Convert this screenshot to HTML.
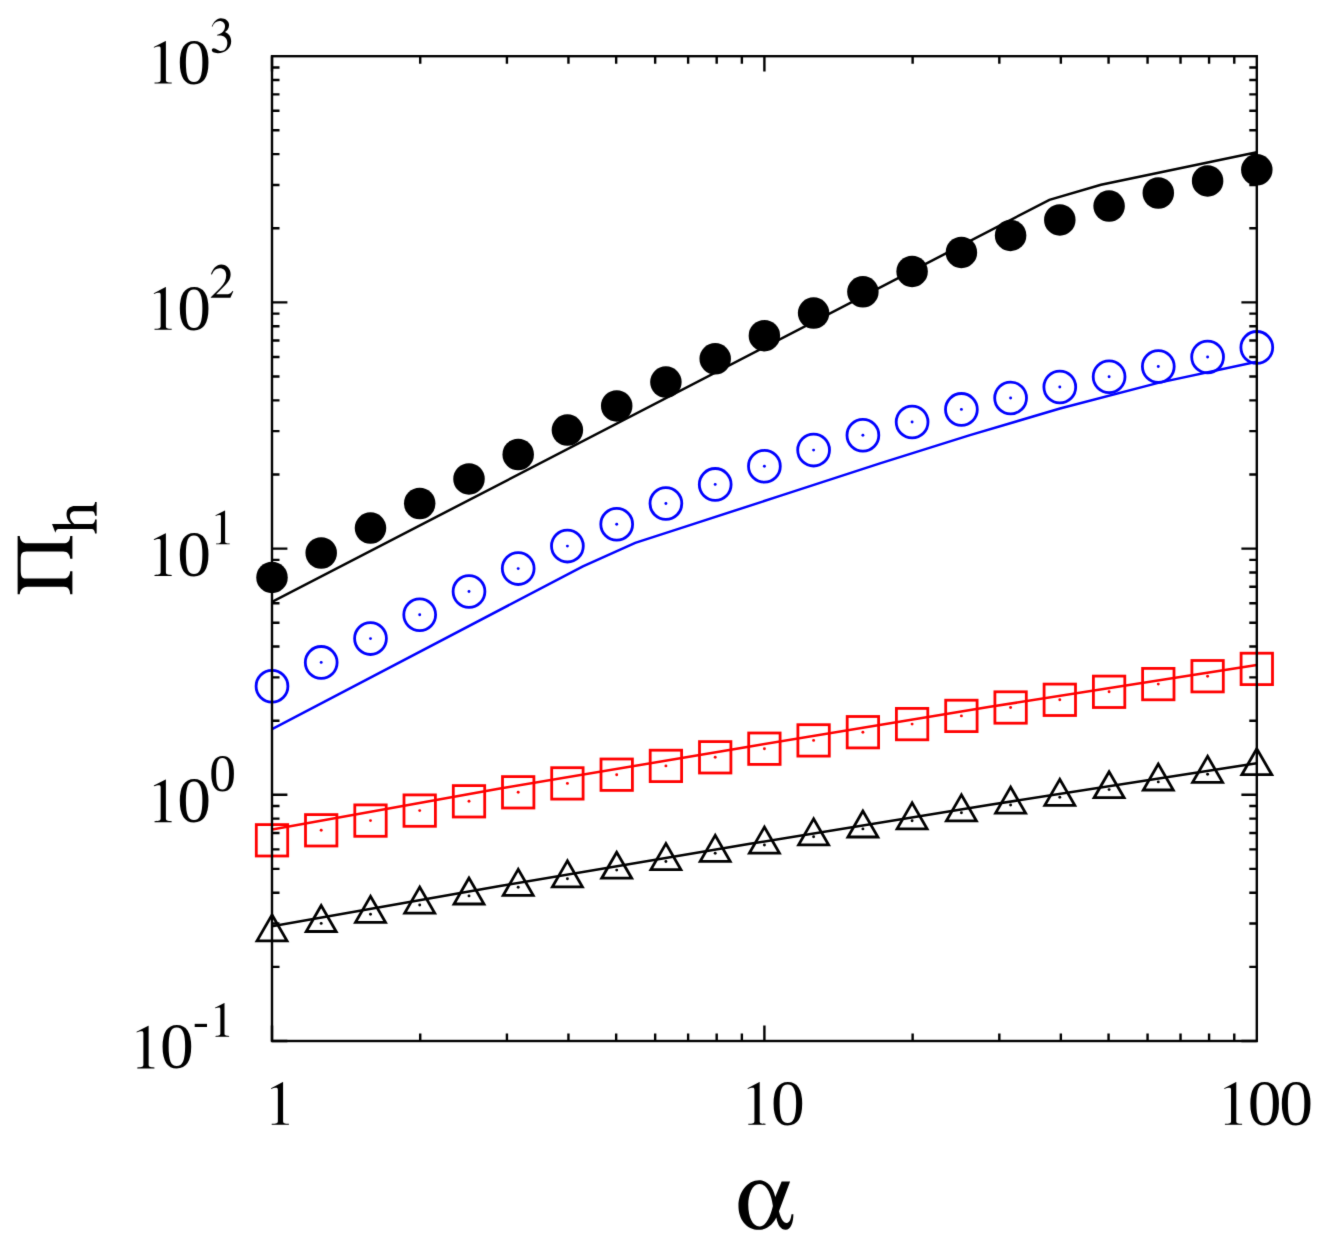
<!DOCTYPE html><html><head><meta charset="utf-8"><style>html,body{margin:0;padding:0;background:#fff;}svg{display:block;}</style></head><body>
<div id="w"><svg width="1324" height="1246" viewBox="0 0 1324 1246">
<rect width="1324" height="1246" fill="#fff"/>
<defs><filter id="bl" color-interpolation-filters="sRGB" x="0" y="0" width="1324" height="1246" filterUnits="userSpaceOnUse"><feConvolveMatrix order="5" kernelMatrix="0.00000 0.00003 0.00021 0.00003 0.00000 0.00003 0.01133 0.08373 0.01133 0.00003 0.00021 0.08373 0.61869 0.08373 0.00021 0.00003 0.01133 0.08373 0.01133 0.00003 0.00000 0.00003 0.00021 0.00003 0.00000" edgeMode="duplicate"/></filter><clipPath id="c"><rect x="272.0" y="56.2" width="984.8" height="984.8"/></clipPath></defs>
<g filter="url(#bl)"><rect width="1324" height="1246" fill="#fff"/>
<g fill="none" stroke-width="2.5" stroke-linejoin="miter" clip-path="url(#c)">
<polyline points="272.0,601.9 1049.4,199.9 1101.0,184.8 1256.8,152.2" stroke="#000"/>
<polyline points="272.0,729.2 582.9,566.4 635.2,542.9 680.0,528.4 780.0,495.9 880.0,463.4 970.0,435.1 1060.0,408.5 1158.2,382.9 1256.8,361.8" stroke="#00f"/>
<polyline points="272.0,829.6 500.0,788.6 750.0,746.5 990.0,706.8 1256.8,665.1" stroke="#f00"/>
<polyline points="272.0,926.3 500.0,886.0 750.0,843.8 990.0,804.8 1256.8,763.2" stroke="#000"/>
</g>
<g>
<circle cx="272.0" cy="577.4" r="15.75" fill="#000"/>
<circle cx="321.2" cy="553.0" r="15.75" fill="#000"/>
<circle cx="370.5" cy="528.1" r="15.75" fill="#000"/>
<circle cx="419.7" cy="503.5" r="15.75" fill="#000"/>
<circle cx="469.0" cy="478.9" r="15.75" fill="#000"/>
<circle cx="518.2" cy="454.5" r="15.75" fill="#000"/>
<circle cx="567.4" cy="430.1" r="15.75" fill="#000"/>
<circle cx="616.7" cy="405.9" r="15.75" fill="#000"/>
<circle cx="665.9" cy="382.1" r="15.75" fill="#000"/>
<circle cx="715.2" cy="358.8" r="15.75" fill="#000"/>
<circle cx="764.4" cy="335.7" r="15.75" fill="#000"/>
<circle cx="813.6" cy="313.1" r="15.75" fill="#000"/>
<circle cx="862.9" cy="291.8" r="15.75" fill="#000"/>
<circle cx="912.1" cy="271.4" r="15.75" fill="#000"/>
<circle cx="961.4" cy="252.4" r="15.75" fill="#000"/>
<circle cx="1010.6" cy="235.4" r="15.75" fill="#000"/>
<circle cx="1059.8" cy="219.9" r="15.75" fill="#000"/>
<circle cx="1109.1" cy="206.1" r="15.75" fill="#000"/>
<circle cx="1158.3" cy="193.0" r="15.75" fill="#000"/>
<circle cx="1207.6" cy="180.9" r="15.75" fill="#000"/>
<circle cx="1256.8" cy="169.8" r="15.75" fill="#000"/>
<circle cx="272.0" cy="686.2" r="15.9" fill="none" stroke="#00f" stroke-width="2.8"/>
<circle cx="321.2" cy="662.4" r="15.9" fill="none" stroke="#00f" stroke-width="2.8"/>
<circle cx="321.2" cy="662.4" r="1.45" fill="#00f"/>
<circle cx="370.5" cy="638.6" r="15.9" fill="none" stroke="#00f" stroke-width="2.8"/>
<circle cx="370.5" cy="638.6" r="1.45" fill="#00f"/>
<circle cx="419.7" cy="614.8" r="15.9" fill="none" stroke="#00f" stroke-width="2.8"/>
<circle cx="419.7" cy="614.8" r="1.45" fill="#00f"/>
<circle cx="469.0" cy="591.5" r="15.9" fill="none" stroke="#00f" stroke-width="2.8"/>
<circle cx="469.0" cy="591.5" r="1.45" fill="#00f"/>
<circle cx="518.2" cy="568.6" r="15.9" fill="none" stroke="#00f" stroke-width="2.8"/>
<circle cx="518.2" cy="568.6" r="1.45" fill="#00f"/>
<circle cx="567.4" cy="546.1" r="15.9" fill="none" stroke="#00f" stroke-width="2.8"/>
<circle cx="567.4" cy="546.1" r="1.45" fill="#00f"/>
<circle cx="616.7" cy="524.3" r="15.9" fill="none" stroke="#00f" stroke-width="2.8"/>
<circle cx="616.7" cy="524.3" r="1.45" fill="#00f"/>
<circle cx="665.9" cy="503.5" r="15.9" fill="none" stroke="#00f" stroke-width="2.8"/>
<circle cx="665.9" cy="503.5" r="1.45" fill="#00f"/>
<circle cx="715.2" cy="484.4" r="15.9" fill="none" stroke="#00f" stroke-width="2.8"/>
<circle cx="715.2" cy="484.4" r="1.45" fill="#00f"/>
<circle cx="764.4" cy="466.3" r="15.9" fill="none" stroke="#00f" stroke-width="2.8"/>
<circle cx="764.4" cy="466.3" r="1.45" fill="#00f"/>
<circle cx="813.6" cy="450.1" r="15.9" fill="none" stroke="#00f" stroke-width="2.8"/>
<circle cx="813.6" cy="450.1" r="1.45" fill="#00f"/>
<circle cx="862.9" cy="435.2" r="15.9" fill="none" stroke="#00f" stroke-width="2.8"/>
<circle cx="862.9" cy="435.2" r="1.45" fill="#00f"/>
<circle cx="912.1" cy="422.0" r="15.9" fill="none" stroke="#00f" stroke-width="2.8"/>
<circle cx="912.1" cy="422.0" r="1.45" fill="#00f"/>
<circle cx="961.4" cy="409.4" r="15.9" fill="none" stroke="#00f" stroke-width="2.8"/>
<circle cx="961.4" cy="409.4" r="1.45" fill="#00f"/>
<circle cx="1010.6" cy="398.0" r="15.9" fill="none" stroke="#00f" stroke-width="2.8"/>
<circle cx="1010.6" cy="398.0" r="1.45" fill="#00f"/>
<circle cx="1059.8" cy="387.0" r="15.9" fill="none" stroke="#00f" stroke-width="2.8"/>
<circle cx="1059.8" cy="387.0" r="1.45" fill="#00f"/>
<circle cx="1109.1" cy="376.8" r="15.9" fill="none" stroke="#00f" stroke-width="2.8"/>
<circle cx="1109.1" cy="376.8" r="1.45" fill="#00f"/>
<circle cx="1158.3" cy="366.5" r="15.9" fill="none" stroke="#00f" stroke-width="2.8"/>
<circle cx="1158.3" cy="366.5" r="1.45" fill="#00f"/>
<circle cx="1207.6" cy="357.0" r="15.9" fill="none" stroke="#00f" stroke-width="2.8"/>
<circle cx="1207.6" cy="357.0" r="1.45" fill="#00f"/>
<circle cx="1256.8" cy="347.4" r="15.9" fill="none" stroke="#00f" stroke-width="2.8"/>
<rect x="256.3" y="824.6" width="31.4" height="31.4" fill="none" stroke="#f00" stroke-width="2.8"/>
<rect x="305.5" y="814.6" width="31.4" height="31.4" fill="none" stroke="#f00" stroke-width="2.8"/>
<circle cx="321.2" cy="830.3" r="1.45" fill="#f00"/>
<rect x="354.8" y="804.9" width="31.4" height="31.4" fill="none" stroke="#f00" stroke-width="2.8"/>
<circle cx="370.5" cy="820.6" r="1.45" fill="#f00"/>
<rect x="404.0" y="794.9" width="31.4" height="31.4" fill="none" stroke="#f00" stroke-width="2.8"/>
<circle cx="419.7" cy="810.6" r="1.45" fill="#f00"/>
<rect x="453.3" y="785.6" width="31.4" height="31.4" fill="none" stroke="#f00" stroke-width="2.8"/>
<circle cx="469.0" cy="801.3" r="1.45" fill="#f00"/>
<rect x="502.5" y="776.6" width="31.4" height="31.4" fill="none" stroke="#f00" stroke-width="2.8"/>
<circle cx="518.2" cy="792.3" r="1.45" fill="#f00"/>
<rect x="551.7" y="767.7" width="31.4" height="31.4" fill="none" stroke="#f00" stroke-width="2.8"/>
<circle cx="567.4" cy="783.4" r="1.45" fill="#f00"/>
<rect x="601.0" y="759.0" width="31.4" height="31.4" fill="none" stroke="#f00" stroke-width="2.8"/>
<circle cx="616.7" cy="774.7" r="1.45" fill="#f00"/>
<rect x="650.2" y="750.2" width="31.4" height="31.4" fill="none" stroke="#f00" stroke-width="2.8"/>
<circle cx="665.9" cy="765.9" r="1.45" fill="#f00"/>
<rect x="699.5" y="741.6" width="31.4" height="31.4" fill="none" stroke="#f00" stroke-width="2.8"/>
<circle cx="715.2" cy="757.3" r="1.45" fill="#f00"/>
<rect x="748.7" y="733.0" width="31.4" height="31.4" fill="none" stroke="#f00" stroke-width="2.8"/>
<circle cx="764.4" cy="748.7" r="1.45" fill="#f00"/>
<rect x="797.9" y="724.7" width="31.4" height="31.4" fill="none" stroke="#f00" stroke-width="2.8"/>
<circle cx="813.6" cy="740.4" r="1.45" fill="#f00"/>
<rect x="847.2" y="716.5" width="31.4" height="31.4" fill="none" stroke="#f00" stroke-width="2.8"/>
<circle cx="862.9" cy="732.2" r="1.45" fill="#f00"/>
<rect x="896.4" y="708.4" width="31.4" height="31.4" fill="none" stroke="#f00" stroke-width="2.8"/>
<circle cx="912.1" cy="724.1" r="1.45" fill="#f00"/>
<rect x="945.7" y="700.2" width="31.4" height="31.4" fill="none" stroke="#f00" stroke-width="2.8"/>
<circle cx="961.4" cy="715.9" r="1.45" fill="#f00"/>
<rect x="994.9" y="691.8" width="31.4" height="31.4" fill="none" stroke="#f00" stroke-width="2.8"/>
<circle cx="1010.6" cy="707.5" r="1.45" fill="#f00"/>
<rect x="1044.1" y="684.1" width="31.4" height="31.4" fill="none" stroke="#f00" stroke-width="2.8"/>
<circle cx="1059.8" cy="699.8" r="1.45" fill="#f00"/>
<rect x="1093.4" y="676.1" width="31.4" height="31.4" fill="none" stroke="#f00" stroke-width="2.8"/>
<circle cx="1109.1" cy="691.8" r="1.45" fill="#f00"/>
<rect x="1142.6" y="668.4" width="31.4" height="31.4" fill="none" stroke="#f00" stroke-width="2.8"/>
<circle cx="1158.3" cy="684.1" r="1.45" fill="#f00"/>
<rect x="1191.9" y="660.5" width="31.4" height="31.4" fill="none" stroke="#f00" stroke-width="2.8"/>
<circle cx="1207.6" cy="676.2" r="1.45" fill="#f00"/>
<rect x="1241.1" y="653.2" width="31.4" height="31.4" fill="none" stroke="#f00" stroke-width="2.8"/>
<polygon points="272.0,914.9 257.0,940.9 287.0,940.9" fill="none" stroke="#000" stroke-width="2.8" stroke-linejoin="miter"/>
<polygon points="321.2,905.5 306.2,931.5 336.2,931.5" fill="none" stroke="#000" stroke-width="2.8" stroke-linejoin="miter"/>
<circle cx="321.2" cy="923.4" r="1.45" fill="#000"/>
<polygon points="370.5,896.4 355.5,922.4 385.5,922.4" fill="none" stroke="#000" stroke-width="2.8" stroke-linejoin="miter"/>
<circle cx="370.5" cy="914.3" r="1.45" fill="#000"/>
<polygon points="419.7,887.1 404.7,913.1 434.7,913.1" fill="none" stroke="#000" stroke-width="2.8" stroke-linejoin="miter"/>
<circle cx="419.7" cy="905.0" r="1.45" fill="#000"/>
<polygon points="469.0,878.0 454.0,904.0 484.0,904.0" fill="none" stroke="#000" stroke-width="2.8" stroke-linejoin="miter"/>
<circle cx="469.0" cy="895.9" r="1.45" fill="#000"/>
<polygon points="518.2,869.4 503.2,895.3 533.2,895.3" fill="none" stroke="#000" stroke-width="2.8" stroke-linejoin="miter"/>
<circle cx="518.2" cy="887.2" r="1.45" fill="#000"/>
<polygon points="567.4,860.9 552.4,886.8 582.4,886.8" fill="none" stroke="#000" stroke-width="2.8" stroke-linejoin="miter"/>
<circle cx="567.4" cy="878.7" r="1.45" fill="#000"/>
<polygon points="616.7,852.2 601.7,878.2 631.7,878.2" fill="none" stroke="#000" stroke-width="2.8" stroke-linejoin="miter"/>
<circle cx="616.7" cy="870.1" r="1.45" fill="#000"/>
<polygon points="665.9,843.6 650.9,869.6 680.9,869.6" fill="none" stroke="#000" stroke-width="2.8" stroke-linejoin="miter"/>
<circle cx="665.9" cy="861.5" r="1.45" fill="#000"/>
<polygon points="715.2,835.4 700.2,861.4 730.2,861.4" fill="none" stroke="#000" stroke-width="2.8" stroke-linejoin="miter"/>
<circle cx="715.2" cy="853.3" r="1.45" fill="#000"/>
<polygon points="764.4,827.1 749.4,853.1 779.4,853.1" fill="none" stroke="#000" stroke-width="2.8" stroke-linejoin="miter"/>
<circle cx="764.4" cy="845.0" r="1.45" fill="#000"/>
<polygon points="813.6,818.9 798.6,844.9 828.6,844.9" fill="none" stroke="#000" stroke-width="2.8" stroke-linejoin="miter"/>
<circle cx="813.6" cy="836.8" r="1.45" fill="#000"/>
<polygon points="862.9,811.0 847.9,837.0 877.9,837.0" fill="none" stroke="#000" stroke-width="2.8" stroke-linejoin="miter"/>
<circle cx="862.9" cy="828.9" r="1.45" fill="#000"/>
<polygon points="912.1,802.9 897.1,828.8 927.1,828.8" fill="none" stroke="#000" stroke-width="2.8" stroke-linejoin="miter"/>
<circle cx="912.1" cy="820.7" r="1.45" fill="#000"/>
<polygon points="961.4,794.9 946.4,820.9 976.4,820.9" fill="none" stroke="#000" stroke-width="2.8" stroke-linejoin="miter"/>
<circle cx="961.4" cy="812.8" r="1.45" fill="#000"/>
<polygon points="1010.6,787.1 995.6,813.1 1025.6,813.1" fill="none" stroke="#000" stroke-width="2.8" stroke-linejoin="miter"/>
<circle cx="1010.6" cy="805.0" r="1.45" fill="#000"/>
<polygon points="1059.8,779.4 1044.8,805.4 1074.8,805.4" fill="none" stroke="#000" stroke-width="2.8" stroke-linejoin="miter"/>
<circle cx="1059.8" cy="797.3" r="1.45" fill="#000"/>
<polygon points="1109.1,771.8 1094.1,797.7 1124.1,797.7" fill="none" stroke="#000" stroke-width="2.8" stroke-linejoin="miter"/>
<circle cx="1109.1" cy="789.6" r="1.45" fill="#000"/>
<polygon points="1158.3,764.0 1143.3,790.0 1173.3,790.0" fill="none" stroke="#000" stroke-width="2.8" stroke-linejoin="miter"/>
<circle cx="1158.3" cy="781.9" r="1.45" fill="#000"/>
<polygon points="1207.6,756.4 1192.6,782.3 1222.6,782.3" fill="none" stroke="#000" stroke-width="2.8" stroke-linejoin="miter"/>
<circle cx="1207.6" cy="774.2" r="1.45" fill="#000"/>
<polygon points="1256.8,748.8 1241.8,774.7 1271.8,774.7" fill="none" stroke="#000" stroke-width="2.8" stroke-linejoin="miter"/>
</g>
<path d="M272.0,1041.00h15.4M1256.8,1041.00h-15.4M272.0,966.89h7.5M1256.8,966.89h-7.5M272.0,923.53h7.5M1256.8,923.53h-7.5M272.0,892.77h7.5M1256.8,892.77h-7.5M272.0,868.91h7.5M1256.8,868.91h-7.5M272.0,849.42h7.5M1256.8,849.42h-7.5M272.0,832.94h7.5M1256.8,832.94h-7.5M272.0,818.66h7.5M1256.8,818.66h-7.5M272.0,806.07h7.5M1256.8,806.07h-7.5M272.0,794.80h15.4M1256.8,794.80h-15.4M272.0,720.69h7.5M1256.8,720.69h-7.5M272.0,677.33h7.5M1256.8,677.33h-7.5M272.0,646.57h7.5M1256.8,646.57h-7.5M272.0,622.71h7.5M1256.8,622.71h-7.5M272.0,603.22h7.5M1256.8,603.22h-7.5M272.0,586.74h7.5M1256.8,586.74h-7.5M272.0,572.46h7.5M1256.8,572.46h-7.5M272.0,559.87h7.5M1256.8,559.87h-7.5M272.0,548.60h15.4M1256.8,548.60h-15.4M272.0,474.49h7.5M1256.8,474.49h-7.5M272.0,431.13h7.5M1256.8,431.13h-7.5M272.0,400.37h7.5M1256.8,400.37h-7.5M272.0,376.51h7.5M1256.8,376.51h-7.5M272.0,357.02h7.5M1256.8,357.02h-7.5M272.0,340.54h7.5M1256.8,340.54h-7.5M272.0,326.26h7.5M1256.8,326.26h-7.5M272.0,313.67h7.5M1256.8,313.67h-7.5M272.0,302.40h15.4M1256.8,302.40h-15.4M272.0,228.29h7.5M1256.8,228.29h-7.5M272.0,184.93h7.5M1256.8,184.93h-7.5M272.0,154.17h7.5M1256.8,154.17h-7.5M272.0,130.31h7.5M1256.8,130.31h-7.5M272.0,110.82h7.5M1256.8,110.82h-7.5M272.0,94.34h7.5M1256.8,94.34h-7.5M272.0,80.06h7.5M1256.8,80.06h-7.5M272.0,67.47h7.5M1256.8,67.47h-7.5M272.00,1041.0v-15.4M272.00,56.2v15.4M420.23,1041.0v-7.5M420.23,56.2v7.5M506.93,1041.0v-7.5M506.93,56.2v7.5M568.45,1041.0v-7.5M568.45,56.2v7.5M616.17,1041.0v-7.5M616.17,56.2v7.5M655.16,1041.0v-7.5M655.16,56.2v7.5M688.13,1041.0v-7.5M688.13,56.2v7.5M716.68,1041.0v-7.5M716.68,56.2v7.5M741.87,1041.0v-7.5M741.87,56.2v7.5M764.40,1041.0v-15.4M764.40,56.2v15.4M912.63,1041.0v-7.5M912.63,56.2v7.5M999.33,1041.0v-7.5M999.33,56.2v7.5M1060.85,1041.0v-7.5M1060.85,56.2v7.5M1108.57,1041.0v-7.5M1108.57,56.2v7.5M1147.56,1041.0v-7.5M1147.56,56.2v7.5M1180.53,1041.0v-7.5M1180.53,56.2v7.5M1209.08,1041.0v-7.5M1209.08,56.2v7.5M1234.27,1041.0v-7.5M1234.27,56.2v7.5" stroke="#000" stroke-width="2.4" fill="none"/>
<rect x="272.0" y="56.2" width="984.8" height="984.8" fill="none" stroke="#000" stroke-width="2.4"/>
<g font-family="Liberation Serif" fill="#000">
<path transform="translate(146.80,83.60) scale(0.06320,-0.06320)" d="M111,580 L298,676 L302,676 L302,62 C302,24 325,17 394,16 L394,0 L122,0 L122,16 C195,17 219,26 219,62 L219,548 C219,578 210,586 192,586 C168,586 140,578 113,568 Z"/>
<text transform="translate(194.20,83.60) scale(1.055,1.025)" x="0" y="0" text-anchor="middle" font-size="64.00">0</text>
<path transform="translate(205,12) scale(0.038506)" d="M175,375 C230,260 300,165 410,165 C530,165 625,240 625,340 C625,430 580,480 520,520 C620,560 680,650 680,760 C680,930 530,1070 330,1070 C230,1070 175,1040 175,990 C175,960 200,940 225,940 C260,940 290,960 320,980 C360,1005 385,1015 410,1015 C520,1015 580,920 580,800 C580,680 500,610 370,610 L318,612 L310,598 L322,588 C440,560 520,480 520,370 C520,290 460,235 380,235 C290,235 230,290 190,385 Z"/>
<path transform="translate(146.80,329.80) scale(0.06320,-0.06320)" d="M111,580 L298,676 L302,676 L302,62 C302,24 325,17 394,16 L394,0 L122,0 L122,16 C195,17 219,26 219,62 L219,548 C219,578 210,586 192,586 C168,586 140,578 113,568 Z"/>
<text transform="translate(194.20,329.80) scale(1.055,1.025)" x="0" y="0" text-anchor="middle" font-size="64.00">0</text>
<path transform="translate(205,258) scale(0.038506)" d="M155,425 C200,280 300,170 420,170 C570,170 665,290 665,420 C665,560 580,650 470,760 L290,940 L600,940 C650,940 680,910 715,860 L735,865 L660,1035 L150,1035 L150,1020 L400,770 C510,660 550,560 550,450 C550,330 480,265 380,265 C290,265 220,320 180,430 Z"/>
<path transform="translate(146.80,576.00) scale(0.06320,-0.06320)" d="M111,580 L298,676 L302,676 L302,62 C302,24 325,17 394,16 L394,0 L122,0 L122,16 C195,17 219,26 219,62 L219,548 C219,578 210,586 192,586 C168,586 140,578 113,568 Z"/>
<text transform="translate(194.20,576.00) scale(1.055,1.025)" x="0" y="0" text-anchor="middle" font-size="64.00">0</text>
<path transform="translate(210.00,544.30) scale(0.05000,-0.05000)" d="M111,580 L298,676 L302,676 L302,62 C302,24 325,17 394,16 L394,0 L122,0 L122,16 C195,17 219,26 219,62 L219,548 C219,578 210,586 192,586 C168,586 140,578 113,568 Z"/>
<path transform="translate(146.80,822.20) scale(0.06320,-0.06320)" d="M111,580 L298,676 L302,676 L302,62 C302,24 325,17 394,16 L394,0 L122,0 L122,16 C195,17 219,26 219,62 L219,548 C219,578 210,586 192,586 C168,586 140,578 113,568 Z"/>
<text transform="translate(194.20,822.20) scale(1.055,1.025)" x="0" y="0" text-anchor="middle" font-size="64.00">0</text>
<text transform="translate(222.50,790.50) scale(1.055,1.025)" x="0" y="0" text-anchor="middle" font-size="50.63">0</text>
<path transform="translate(129.55,1068.40) scale(0.06320,-0.06320)" d="M111,580 L298,676 L302,676 L302,62 C302,24 325,17 394,16 L394,0 L122,0 L122,16 C195,17 219,26 219,62 L219,548 C219,578 210,586 192,586 C168,586 140,578 113,568 Z"/>
<text transform="translate(176.95,1068.40) scale(1.055,1.025)" x="0" y="0" text-anchor="middle" font-size="64.00">0</text>
<rect x="194.70" y="1023.85" width="12.30" height="3.15"/>
<path transform="translate(209.40,1036.70) scale(0.05000,-0.05000)" d="M111,580 L298,676 L302,676 L302,62 C302,24 325,17 394,16 L394,0 L122,0 L122,16 C195,17 219,26 219,62 L219,548 C219,578 210,586 192,586 C168,586 140,578 113,568 Z"/>
<path transform="translate(264.00,1124.80) scale(0.06320,-0.06320)" d="M111,580 L298,676 L302,676 L302,62 C302,24 325,17 394,16 L394,0 L122,0 L122,16 C195,17 219,26 219,62 L219,548 C219,578 210,586 192,586 C168,586 140,578 113,568 Z"/>
<path transform="translate(740.60,1124.80) scale(0.06320,-0.06320)" d="M111,580 L298,676 L302,676 L302,62 C302,24 325,17 394,16 L394,0 L122,0 L122,16 C195,17 219,26 219,62 L219,548 C219,578 210,586 192,586 C168,586 140,578 113,568 Z"/>
<text transform="translate(788.00,1124.80) scale(1.055,1.025)" x="0" y="0" text-anchor="middle" font-size="64.00">0</text>
<path transform="translate(1217.20,1124.80) scale(0.06320,-0.06320)" d="M111,580 L298,676 L302,676 L302,62 C302,24 325,17 394,16 L394,0 L122,0 L122,16 C195,17 219,26 219,62 L219,548 C219,578 210,586 192,586 C168,586 140,578 113,568 Z"/>
<text transform="translate(1264.60,1124.80) scale(1.055,1.025)" x="0" y="0" text-anchor="middle" font-size="64.00">0</text>
<text transform="translate(1296.20,1124.80) scale(1.055,1.025)" x="0" y="0" text-anchor="middle" font-size="64.00">0</text>
<path transform="translate(730,1172) scale(0.052949)" fill-rule="evenodd" fill="#000" d="M550,155 C700,155 815,280 855,470 L975,180 L1135,180 L925,740 C960,880 1010,962 1070,962 C1130,962 1150,880 1162,800 L1197,800 C1197,950 1150,1092 1050,1092 C960,1092 900,1000 875,860 C800,1010 680,1092 550,1092 C300,1092 160,880 160,640 C160,380 330,155 550,155 Z M555,225 C420,225 345,420 345,620 C345,860 430,1030 555,1030 C680,1030 770,820 810,640 C780,420 700,225 555,225 Z"/>
<g transform="translate(72.5,548.6) rotate(-90)"></g>
<path transform="translate(12,530) scale(0.056180)" fill="#000" d="M100,105 L100,1145 L138,1145 C145,1080 185,1014 270,1012 L925,1012 C1000,1012 1030,1060 1036,1145 L1075,1145 L1075,735 L1036,735 C1030,800 1000,865 920,865 L240,865 C175,862 157,820 155,720 L155,520 C157,420 175,385 260,383 L910,383 C1000,385 1030,440 1036,512 L1075,512 L1075,105 L1036,105 C1030,190 1000,238 910,238 L270,238 C185,236 145,180 138,105 Z"/>
<path transform="translate(45,495) scale(0.045310)" fill="#000" d="M155,640 L580,640 C530,600 475,520 475,420 C475,310 550,245 660,245 L1040,245 C1080,240 1100,200 1105,155 L1140,155 L1140,460 L1105,460 C1100,400 1080,362 1040,360 L660,360 C590,360 550,410 550,470 C550,540 600,600 650,640 L1040,640 C1080,635 1100,590 1105,540 L1140,540 L1140,850 L1105,850 C1100,800 1080,752 1040,750 L300,750 C260,752 240,780 230,835 Z"/>
</g>
</g></svg></div></body></html>
